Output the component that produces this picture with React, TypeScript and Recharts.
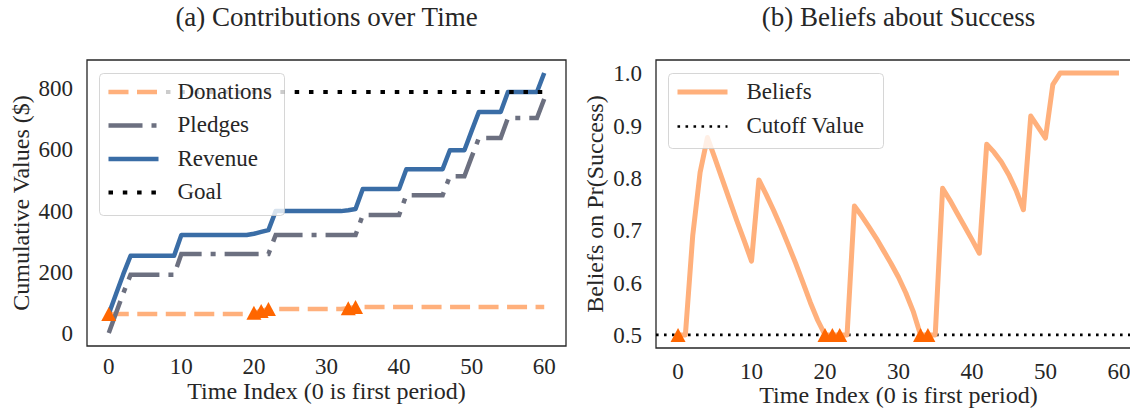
import {
  ComposedChart,
  Line,
  Scatter,
  XAxis,
  YAxis,
  ReferenceArea,
  ReferenceLine,
} from "recharts";

// time index 0..60
const TIME = Array.from({ length: 61 }, (_, i) => i);

const DONATIONS = [
  62, 62, 62, 62, 62, 62, 62, 62, 62, 62, 62, 62, 62, 62, 62, 62, 62, 62, 62, 62,
  66, 72, 78, 78, 78, 78, 78, 78, 78, 78, 78, 78, 78, 81,
  85, 85, 85, 85, 85, 85, 85, 85, 85, 85, 85, 85, 85, 85, 85, 85, 85, 85, 85, 85,
  85, 85, 85, 85, 85, 85, 85,
];

const PLEDGES = [
  0, 65, 130, 190, 190, 190, 190, 190, 190, 190, 258, 258, 258, 258, 258, 258, 258,
  258, 258, 258, 258, 258, 258, 320, 320, 320, 320, 320, 320, 320, 320, 320, 320,
  320, 320, 385, 385, 385, 385, 385, 385, 450, 450, 450, 450, 450, 450, 512, 512,
  512, 575, 637, 637, 637, 637, 702, 702, 702, 702, 702, 764,
];

const REVENUE = [
  62, 127, 192, 252, 252, 252, 252, 252, 252, 252, 320, 320, 320, 320, 320, 320, 320,
  320, 320, 320, 324, 330, 336, 398, 398, 398, 398, 398, 398, 398, 398, 398, 398,
  401, 405, 470, 470, 470, 470, 470, 470, 535, 535, 535, 535, 535, 535, 597, 597,
  597, 660, 722, 722, 722, 722, 787, 787, 787, 787, 787, 849,
];

const GOAL = 787;

const BELIEFS = [
  0.5, 0.5, 0.69, 0.81, 0.877, 0.838, 0.798, 0.758, 0.718, 0.68, 0.641,
  0.796, 0.768, 0.738, 0.706, 0.672, 0.637, 0.6, 0.562, 0.528, 0.5,
  0.5, 0.5, 0.5, 0.746, 0.727, 0.706, 0.684, 0.66, 0.636, 0.61,
  0.58, 0.545, 0.5, 0.5, 0.5, 0.78, 0.757, 0.732, 0.707, 0.682,
  0.656, 0.864, 0.849, 0.83, 0.806, 0.776, 0.739, 0.918, 0.897, 0.876,
  0.978, 1.0, 1.0, 1.0, 1.0, 1.0, 1.0, 1.0, 1.0, 1.0,
];

const CUTOFF = 0.5;

// periods where a donation came in
const DONATION_TIMES = [0, 20, 21, 22, 33, 34];

const TIME_TICKS = [0, 10, 20, 30, 40, 50, 60];
const VALUE_TICKS = [0, 200, 400, 600, 800];
const BELIEF_TICKS = [0.5, 0.6, 0.7, 0.8, 0.9, 1.0];

const contribRows = TIME.map((t, i) => ({
  t,
  donations: DONATIONS[i],
  pledges: PLEDGES[i],
  revenue: REVENUE[i],
  goal: GOAL,
}));
const beliefRows = TIME.map((t, i) => ({ t, beliefs: BELIEFS[i] }));
const donationMarks = DONATION_TIMES.map((t) => ({ t, v: DONATIONS[t] }));
const beliefMarks = DONATION_TIMES.map((t) => ({ t, v: BELIEFS[t] }));

const FONT = "'Liberation Serif', 'Times New Roman', serif";
const INK = "#262626";
const PEACH = "#ffb07c";
const DARK_ORANGE = "#ff6600";
const BLUE = "#3a6da6";
const GREY = "#6c7080";

const tickStyle = { fontSize: 23, fill: INK, fontFamily: FONT };

const Triangle = (props: any) => {
  const { cx, cy } = props;
  if (cx == null || cy == null) return null;
  return (
    <polygon
      points={`${cx},${cy - 7} ${cx - 7.5},${cy + 7} ${cx + 7.5},${cy + 7}`}
      fill={DARK_ORANGE}
    />
  );
};

function ContributionsChart() {
  return (
    <ComposedChart
      width={600}
      height={409}
      data={contribRows}
      margin={{ top: 60, right: 34, bottom: 33, left: 0 }}
    >
      <XAxis
        dataKey="t"
        type="number"
        domain={[-3, 63]}
        allowDataOverflow
        ticks={TIME_TICKS}
        axisLine={false}
        tickLine={false}
        tickSize={0}
        tickMargin={12}
        height={30}
        tick={tickStyle}
      />
      <YAxis
        type="number"
        domain={[-42.5, 891.5]}
        allowDataOverflow
        ticks={VALUE_TICKS}
        axisLine={false}
        tickLine={false}
        tickSize={0}
        tickMargin={14}
        width={87}
        tick={tickStyle}
      />
      <Scatter data={donationMarks} dataKey="v" shape={Triangle} isAnimationActive={false} />
      <Line
        dataKey="donations"
        stroke={PEACH}
        strokeWidth={4.5}
        strokeDasharray="20 8.5"
        dot={false}
        activeDot={false}
        isAnimationActive={false}
      />
      <Line
        dataKey="pledges"
        stroke={GREY}
        strokeWidth={4.5}
        strokeDasharray="34 9 5 9"
        dot={false}
        activeDot={false}
        isAnimationActive={false}
      />
      <Line
        dataKey="revenue"
        stroke={BLUE}
        strokeWidth={4.5}
        strokeLinejoin="round"
        dot={false}
        activeDot={false}
        isAnimationActive={false}
      />
      <Line
        dataKey="goal"
        stroke="#000"
        strokeWidth={4}
        strokeDasharray="4.5 9.8"
        dot={false}
        activeDot={false}
        isAnimationActive={false}
      />
      <ReferenceArea
        x1={-3}
        x2={63}
        y1={-42.5}
        y2={891.5}
        fill="none"
        stroke={INK}
        strokeWidth={1.3}
        ifOverflow="visible"
      />
    </ComposedChart>
  );
}

function BeliefsChart() {
  return (
    <ComposedChart
      width={600}
      height={409}
      data={beliefRows}
      margin={{ top: 60, right: 59, bottom: 31, left: 0 }}
    >
      <XAxis
        dataKey="t"
        type="number"
        domain={[-3, 63]}
        allowDataOverflow
        ticks={TIME_TICKS}
        axisLine={false}
        tickLine={false}
        tickSize={0}
        tickMargin={15}
        height={30}
        tick={tickStyle}
      />
      <YAxis
        type="number"
        domain={[0.475, 1.025]}
        allowDataOverflow
        ticks={BELIEF_TICKS}
        tickFormatter={(v: number) => v.toFixed(1)}
        axisLine={false}
        tickLine={false}
        tickSize={0}
        tickMargin={14}
        width={56}
        tick={tickStyle}
      />
      <ReferenceLine
        y={CUTOFF}
        stroke="#000"
        strokeWidth={2.6}
        strokeDasharray="2.6 5.4"
        ifOverflow="visible"
      />
      <Line
        dataKey="beliefs"
        stroke={PEACH}
        strokeWidth={5}
        strokeLinejoin="round"
        dot={false}
        activeDot={false}
        isAnimationActive={false}
      />
      <Scatter data={beliefMarks} dataKey="v" shape={Triangle} isAnimationActive={false} />
      <ReferenceArea
        x1={-3}
        x2={63}
        y1={0.475}
        y2={1.025}
        fill="none"
        stroke={INK}
        strokeWidth={1.3}
        ifOverflow="visible"
      />
    </ComposedChart>
  );
}

type Entry = { label: string; stroke: string; width: number; dash?: string };

const CONTRIB_LEGEND: Entry[] = [
  { label: "Donations", stroke: PEACH, width: 4.5, dash: "20 8.5" },
  { label: "Pledges", stroke: GREY, width: 4.5, dash: "34 9 5 9" },
  { label: "Revenue", stroke: BLUE, width: 4.5 },
  { label: "Goal", stroke: "#000", width: 4, dash: "4.5 9.8" },
];

const BELIEF_LEGEND: Entry[] = [
  { label: "Beliefs", stroke: PEACH, width: 5 },
  { label: "Cutoff Value", stroke: "#000", width: 2.6, dash: "2.6 5.4" },
];

function LegendBox({
  x,
  y,
  w,
  h,
  entries,
  rowGap,
}: {
  x: number;
  y: number;
  w: number;
  h: number;
  entries: Entry[];
  rowGap: number;
}) {
  return (
    <g>
      <rect
        x={x}
        y={y}
        width={w}
        height={h}
        rx={4}
        fill="#fff"
        fillOpacity={0.8}
        stroke="#cccccc"
        strokeOpacity={0.8}
      />
      {entries.map((e, i) => {
        const cy = y + 18.5 + i * rowGap;
        return (
          <g key={e.label}>
            <line
              x1={x + 9}
              x2={x + 59}
              y1={cy}
              y2={cy}
              stroke={e.stroke}
              strokeWidth={e.width}
              strokeDasharray={e.dash}
            />
            <text
              x={x + 78}
              y={cy + 6.5}
              fontSize={23}
              fontFamily={FONT}
              fill={INK}
            >
              {e.label}
            </text>
          </g>
        );
      })}
    </g>
  );
}

export default function App() {
  return (
    <div
      style={{
        position: "absolute",
        left: 0,
        top: 0,
        width: 1130,
        height: 409,
        overflow: "hidden",
        background: "#fff",
      }}
    >
      <div style={{ position: "absolute", left: 0, top: 0 }}>
        <ContributionsChart />
      </div>
      <div style={{ position: "absolute", left: 600, top: 0 }}>
        <BeliefsChart />
      </div>
      <svg
        width={1130}
        height={409}
        style={{ position: "absolute", left: 0, top: 0, pointerEvents: "none" }}
      >
        <g fontFamily={FONT} fill={INK}>
          <text x={326.5} y={26} fontSize={27} textAnchor="middle">
            (a) Contributions over Time
          </text>
          <text x={898.5} y={26} fontSize={27} textAnchor="middle">
            (b) Beliefs about Success
          </text>
          <text x={326.5} y={399} fontSize={24} textAnchor="middle">
            Time Index (0 is first period)
          </text>
          <text x={898.5} y={403} fontSize={24} textAnchor="middle">
            Time Index (0 is first period)
          </text>
          <text
            transform="translate(29,203) rotate(-90)"
            fontSize={24}
            textAnchor="middle"
          >
            Cumulative Values ($)
          </text>
          <text
            transform="translate(603,204) rotate(-90)"
            fontSize={24}
            textAnchor="middle"
          >
            Beliefs on Pr(Success)
          </text>
        </g>
        <LegendBox x={99.5} y={73.5} w={185} h={142} entries={CONTRIB_LEGEND} rowGap={33.5} />
        <LegendBox x={668.5} y={73.5} w={215} h={75} entries={BELIEF_LEGEND} rowGap={34.5} />
      </svg>
    </div>
  );
}
